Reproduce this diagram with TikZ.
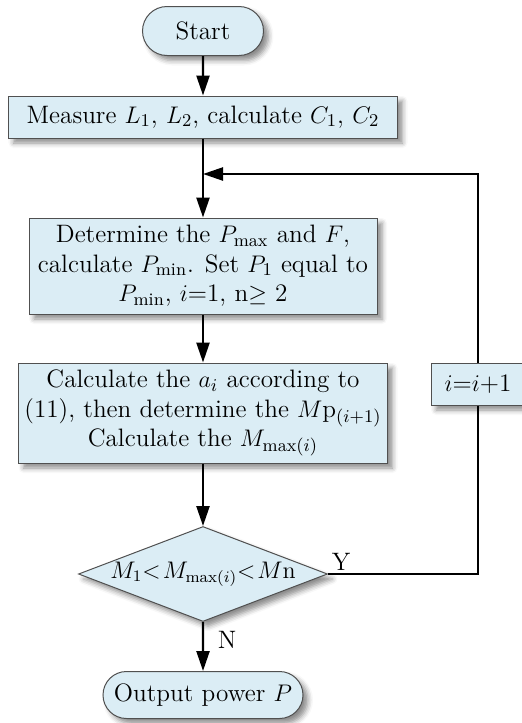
\documentclass[tikz,border=0pt]{standalone}
\usepackage{fontspec}
\usetikzlibrary{shapes.geometric,shapes.misc,shadows.blur,arrows.meta}
\definecolor{boxfill}{RGB}{219,237,245}
\definecolor{boxline}{RGB}{80,80,80}
\begin{document}
\begin{tikzpicture}[x=0.5pt,y=-0.5pt,
  base/.style={draw=boxline,line width=0.5pt,fill=boxfill,
    blur shadow={shadow xshift=2.5pt,shadow yshift=-2.5pt,shadow blur radius=2.5pt,shadow opacity=45},
    font=\fontsize{12.6}{14.8}\selectfont,align=center,inner sep=0pt},
  procbox/.style={base,rectangle},
  termbox/.style={base,rounded rectangle},
  decbox/.style={base,diamond,font=\fontsize{12}{14}\selectfont},
  conn/.style={line width=1.2pt,-{Triangle[length=10pt,width=6.5pt]}},
  plain/.style={line width=1.2pt},
  lbl/.style={font=\fontsize{12.6}{14.8}\selectfont,inner sep=0pt}]
\useasboundingbox (0,0) rectangle (522,723);
\node[termbox,minimum width=60.5pt,minimum height=24.5pt] (start) at (203,31) {Start};
\node[procbox,minimum width=194.5pt,minimum height=21pt] (meas) at (203,117)
  {Measure $L_1$, $L_2$, calculate $C_1$, $C_2$};
\node[procbox,minimum width=174pt,minimum height=48pt] (det) at (203,266)
  {Determine the $P_{\max}$ and $F$,\\ calculate $P_{\min}$. Set $P_1$ equal to\\ $P_{\min}$, $i$=1, n$\geq$ 2};
\node[procbox,minimum width=184.5pt,minimum height=50pt] (calc) at (203,413)
  {Calculate the $a_i$ according to\\ (11), then determine the $M\mathrm{p}_{(i+1)}$\\ Calculate the $M_{\max(i)}$};
\node[decbox,minimum width=124.5pt,minimum height=47.5pt] (dec) at (203,574)
  {\makebox[0pt]{$M_1$<\kern1pt$M_{\max(i)}$<\kern1pt$M$n}};
\node[procbox,minimum width=47pt,minimum height=21pt] (inc) at (478,384) {$i$=$i$+1};
\node[termbox,minimum width=100pt,minimum height=23.5pt] (out) at (203,695) {Output power $P$};
\coordinate (join) at (203,174);
\draw[conn] (start) -- (meas);
\draw[plain] (meas) -- (join);
\draw[conn] (join) -- (det);
\draw[conn] (det) -- (calc);
\draw[conn] (calc) -- (dec);
\draw[conn] (dec) -- (out);
\draw[plain] (dec.east) -| (inc.south);
\draw[conn] (inc.north) |- (join);
\node[lbl] (ylab) at (341,562) {Y};
\node[lbl] (nlab) at (227,640) {N};
\end{tikzpicture}
\end{document}
